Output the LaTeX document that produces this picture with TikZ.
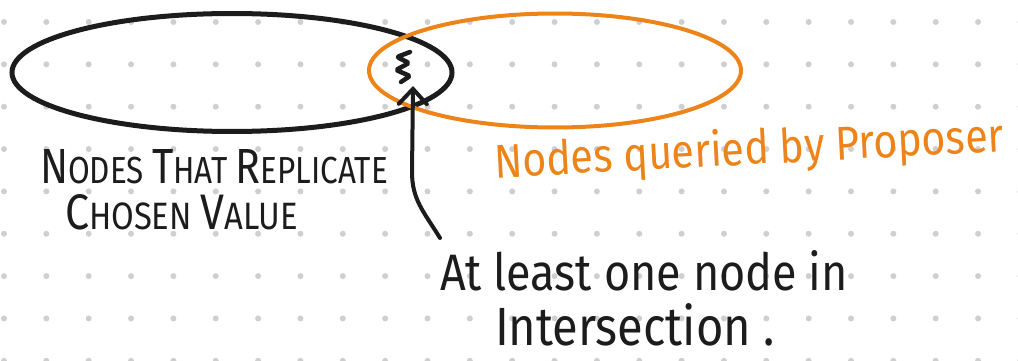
\documentclass[tikz,border=0pt]{standalone}
\usepackage{fontspec}
\setmainfont{Fira Sans}
\usepackage{graphicx}
\usetikzlibrary{shapes.geometric,arrows.meta}
\definecolor{ink}{HTML}{1C1C1C}
\definecolor{marker}{HTML}{EC841A}
\definecolor{dotgrey}{HTML}{CFCFCF}
% larger first letter of a small-caps word
\newcommand\capinit[1]{{\fontsize{38}{38}\selectfont #1}}
\newcommand\capsmall{\fontsize{29}{29}\selectfont}
\begin{document}
\begin{tikzpicture}[x=1pt,y=-1pt,
  setring/.style={draw, ellipse, inner sep=0pt, outer sep=0pt},
  label/.style={inner sep=0pt, outer sep=0pt, anchor=base west},
  pointer/.style={ink, line width=4pt, line cap=round, line join=round,
    -{Straight Barb[length=15pt,width=28pt,line cap=round]}}]
\useasboundingbox (0,0) rectangle (1018,361);

% dotted paper
\foreach \i in {0,...,24}
  \foreach \j in {0,...,8}
    \fill[dotgrey] ({4+42.35*\i},{22+42.35*\j}) circle[radius=3pt];

% the two sets
\node[setring, ink, line width=5pt, minimum width=440pt, minimum height=118pt]
  (chosen) at (232,72.5) {};
\node[setring, marker, line width=4pt, minimum width=372pt, minimum height=114pt]
  (queried) at (555,70.5) {};

% the node lying in both sets
\draw[ink, line width=4.5pt, line cap=round, line join=round, rounded corners=2pt]
  (410,52) -- (397,57) -- (409,63) -- (396,70) -- (410,76) -- (401,82);
\coordinate (member) at (413,86);

% labels
\node[label, ink] (chosenlbl) at (40,183)
  {\resizebox{348pt}{34pt}{\capsmall\capinit{N}ODES\ \capinit{T}HAT\ \capinit{R}EPLICATE}};
\node[label, ink] (chosenlbl2) at (65,229)
  {\resizebox{233pt}{35pt}{\capsmall\capinit{C}HOSEN\ \capinit{V}ALUE}};
\node[label, marker, rotate=3] (queriedlbl) at (495,178)
  {\resizebox{510pt}{37pt}{\fontsize{40}{40}\selectfont Nodes queried by Proposer}};
\node[label, ink] (note) at (440,290)
  {\resizebox{408pt}{40pt}{\fontsize{40}{40}\selectfont At least one node in}};
\node[label, ink] (note2) at (495,345)
  {\resizebox{280pt}{42pt}{\fontsize{40}{40}\selectfont Intersection .}};

% pointer from the note to the shared node
\coordinate (tail) at (440,238);
\draw[pointer] (tail) .. controls (424,212) and (412,200) .. (412,172) -- (member);
\end{tikzpicture}
\end{document}
